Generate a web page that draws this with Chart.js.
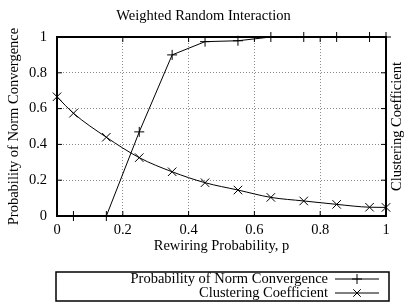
<!DOCTYPE html>
<html>
<head>
<meta charset="utf-8">
<script src="https://cdn.jsdelivr.net/npm/chart.js@4/dist/chart.umd.min.js"></script>
<style>
  html, body { margin: 0; padding: 0; background: #fff; }
  #wrap { width: 407px; height: 302px; }
</style>
</head>
<body>
<div id="wrap"><canvas id="myChart" width="407" height="302"></canvas></div>
<script>
const chartTitle = 'Weighted Random Interaction';
const xTitle = 'Rewiring Probability, p';
const yTitle = 'Probability of Norm Convergence';
const y2Title = 'Clustering Coefficient';

const normX = [0.05, 0.15, 0.25, 0.35, 0.45, 0.55, 0.65, 0.75, 0.85, 0.95, 1.0];
const normY = [0, 0, 0.47, 0.9, 0.974, 0.979, 1, 1, 1, 1, 1];

const clusterX = [0, 0.05, 0.15, 0.25, 0.35, 0.45, 0.55, 0.65, 0.75, 0.85, 0.95, 1.0];
const clusterY = [0.666, 0.574, 0.44, 0.326, 0.247, 0.186, 0.145, 0.104, 0.084, 0.065, 0.049, 0.048];

const xTicks = [0, 0.2, 0.4, 0.6, 0.8, 1];
const yTicks = [0, 0.2, 0.4, 0.6, 0.8, 1];

const FONT = "'Liberation Serif', 'Times New Roman', serif";
const FSIZE = 14.5;

function toPoints(xs, ys) {
  const pts = [];
  for (let i = 0; i < xs.length; i++) {
    pts.push({ x: xs[i], y: ys[i] });
  }
  return pts;
}

function gridColor(ctx) {
  const v = ctx.tick ? ctx.tick.value : null;
  if (v === 0 || v === 1) return 'rgba(0,0,0,0)';
  return '#8a8a8a';
}

function tickLabel(v) {
  return String(+Number(v).toFixed(1));
}

// gnuplot style frame with inward ticks, plus right axis title
const framePlugin = {
  id: 'frame',
  afterDatasetsDraw(chart) {
    const a = chart.chartArea;
    const c = chart.ctx;
    const xs = chart.scales.x;
    const ys = chart.scales.y;
    c.save();
    c.strokeStyle = '#000';
    c.lineWidth = 1;
    c.beginPath();
    xTicks.forEach(v => {
      const px = xs.getPixelForValue(v);
      c.moveTo(px, a.bottom); c.lineTo(px, a.bottom - 5);
      c.moveTo(px, a.top); c.lineTo(px, a.top + 5);
    });
    yTicks.forEach(v => {
      const py = ys.getPixelForValue(v);
      c.moveTo(a.left, py); c.lineTo(a.left + 5, py);
      c.moveTo(a.right, py); c.lineTo(a.right - 5, py);
    });
    c.stroke();
    c.lineWidth = 2;
    c.strokeRect(a.left, a.top, a.right - a.left, a.bottom - a.top);

    c.translate(397, (a.top + a.bottom) / 2);
    c.rotate(-Math.PI / 2);
    c.font = FSIZE + 'px ' + FONT;
    c.fillStyle = '#000';
    c.textAlign = 'center';
    c.textBaseline = 'middle';
    c.fillText(y2Title, 0, 0);
    c.restore();
  }
};

// legend box under the chart, gnuplot layout: text then sample
const legendPlugin = {
  id: 'boxLegend',
  afterDraw(chart) {
    const c = chart.ctx;
    const left = 56, right = 389, top = 272, bottom = 301;
    c.save();
    c.strokeStyle = '#000';
    c.lineWidth = 1.5;
    c.strokeRect(left, top, right - left, bottom - top);
    c.font = FSIZE + 'px ' + FONT;
    c.fillStyle = '#000';
    c.textAlign = 'right';
    c.textBaseline = 'middle';
    const rows = [279, 293];
    chart.data.datasets.forEach((ds, i) => {
      const y = rows[i];
      c.fillText(ds.label, 328, y);
      c.lineWidth = 1;
      c.beginPath();
      c.moveTo(335, y); c.lineTo(379, y);
      c.stroke();
      const mx = 357, r = 5;
      c.beginPath();
      if (ds.pointStyle === 'cross') {
        c.moveTo(mx - r, y); c.lineTo(mx + r, y);
        c.moveTo(mx, y - r); c.lineTo(mx, y + r);
      } else {
        const d = r * 0.75;
        c.moveTo(mx - d, y - d); c.lineTo(mx + d, y + d);
        c.moveTo(mx - d, y + d); c.lineTo(mx + d, y - d);
      }
      c.stroke();
    });
    c.restore();
  }
};

const ctx = document.getElementById('myChart').getContext('2d');
const myChart = new Chart(ctx, {
  type: 'scatter',
  data: {
    datasets: [{
      label: yTitle,
      data: toPoints(normX, normY),
      showLine: true,
      clip: false,
      borderColor: '#000',
      backgroundColor: '#000',
      borderWidth: 1,
      pointStyle: 'cross',
      pointRadius: 5,
      pointBorderWidth: 1,
      yAxisID: 'y'
    }, {
      label: y2Title,
      data: toPoints(clusterX, clusterY),
      showLine: true,
      clip: false,
      borderColor: '#000',
      backgroundColor: '#000',
      borderWidth: 1,
      pointStyle: 'crossRot',
      pointRadius: 6,
      pointBorderWidth: 1,
      cubicInterpolationMode: 'monotone',
      yAxisID: 'y2'
    }]
  },
  options: {
    responsive: false,
    animation: false,
    layout: { padding: { left: 0, right: 0, top: 0, bottom: 47 } },
    plugins: {
      legend: { display: false },
      tooltip: { enabled: false },
      title: {
        display: true,
        text: chartTitle,
        color: '#000',
        font: { family: FONT, size: FSIZE, weight: 'normal' },
        padding: { top: 7, bottom: 12.6 }
      }
    },
    scales: {
      x: {
        type: 'linear',
        min: 0, max: 1,
        afterBuildTicks: s => { s.ticks = xTicks.map(v => ({ value: v })); },
        afterFit: s => { s.height = 39; },
        ticks: {
          color: '#000', padding: 5,
          font: { family: FONT, size: FSIZE },
          callback: tickLabel
        },
        grid: { color: gridColor, drawTicks: false, lineWidth: 1 },
        border: { display: false, dash: [1, 2] },
        title: {
          display: true, text: xTitle, color: '#000',
          font: { family: FONT, size: FSIZE }, padding: { top: 0, bottom: 0 }
        }
      },
      y: {
        position: 'left',
        min: 0, max: 1,
        afterBuildTicks: s => { s.ticks = yTicks.map(v => ({ value: v })); },
        afterFit: s => { s.width = 57; },
        ticks: {
          color: '#000', padding: 10,
          font: { family: FONT, size: FSIZE },
          callback: tickLabel
        },
        grid: { color: gridColor, drawTicks: false, lineWidth: 1 },
        border: { display: false, dash: [1, 2] },
        title: {
          display: true, text: yTitle, color: '#000',
          font: { family: FONT, size: FSIZE }, padding: { top: 5, bottom: 0 }
        }
      },
      y2: {
        position: 'right',
        min: 0, max: 1,
        afterFit: s => { s.width = 21; },
        ticks: { display: false },
        grid: { display: false, drawTicks: false },
        border: { display: false },
        title: { display: false }
      }
    }
  },
  plugins: [framePlugin, legendPlugin]
});
</script>
</body>
</html>
